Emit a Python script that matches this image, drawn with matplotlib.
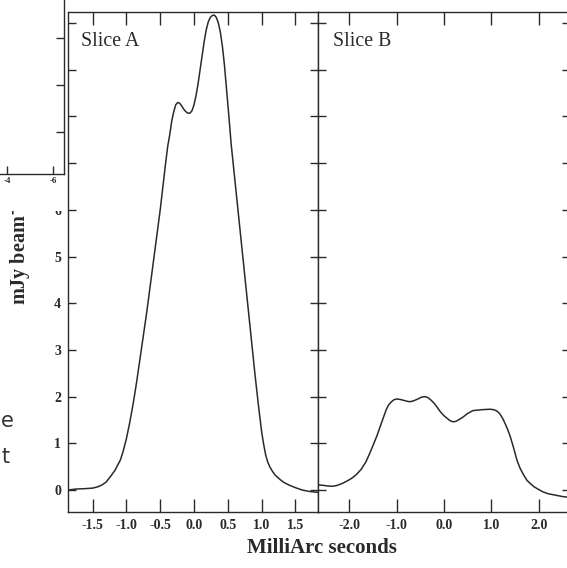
#!/usr/bin/env python3

import matplotlib

matplotlib.use("Agg")
import matplotlib.pyplot as plt
from matplotlib.patches import Rectangle

W, H = 567, 568

# Slice A profile (milliarcsec, mJy/beam)
SLICE_A_X = [-1.86, -1.75, -1.6, -1.5, -1.42, -1.36, -1.3, -1.24, -1.17, -1.13,
             -1.09, -1.05, -1.0, -0.95, -0.9, -0.85, -0.8, -0.75, -0.7, -0.65,
             -0.6, -0.55, -0.5, -0.46, -0.42, -0.39, -0.36, -0.33, -0.3, -0.27,
             -0.24, -0.21, -0.18, -0.15, -0.12, -0.09, -0.06, -0.03, 0.0, 0.03,
             0.06, 0.09, 0.12, 0.15, 0.18, 0.21, 0.24, 0.27, 0.3, 0.33,
             0.36, 0.39, 0.42, 0.45, 0.48, 0.51, 0.55, 0.6, 0.65, 0.7,
             0.75, 0.8, 0.85, 0.9, 0.95, 1.0, 1.03, 1.06, 1.09, 1.12,
             1.16, 1.2, 1.26, 1.32, 1.4, 1.5, 1.6, 1.7, 1.83]
SLICE_A_Y = [0.0, 0.02, 0.03, 0.04, 0.07, 0.11, 0.17, 0.28, 0.42, 0.53,
             0.64, 0.82, 1.1, 1.45, 1.85, 2.3, 2.8, 3.3, 3.8, 4.35,
             4.9, 5.45, 6.0, 6.5, 7.0, 7.35, 7.6, 7.9, 8.1, 8.25,
             8.3, 8.28, 8.22, 8.15, 8.1, 8.07, 8.07, 8.12, 8.25, 8.45,
             8.7, 9.0, 9.3, 9.6, 9.85, 10.02, 10.12, 10.16, 10.17, 10.12,
             10.0, 9.8, 9.5, 9.1, 8.6, 8.1, 7.4, 6.7, 6.0, 5.3,
             4.6, 3.9, 3.2, 2.5, 1.85, 1.25, 0.98, 0.75, 0.6, 0.5,
             0.4, 0.32, 0.24, 0.17, 0.11, 0.05, 0.0, -0.03, -0.05]

# Slice B profile
SLICE_B_X = [-2.66, -2.55, -2.45, -2.35, -2.25, -2.15, -2.05, -1.95, -1.85, -1.75,
             -1.65, -1.57, -1.5, -1.42, -1.35, -1.28, -1.22, -1.17, -1.12, -1.06,
             -1.0, -0.93, -0.85, -0.78, -0.72, -0.64, -0.55, -0.47, -0.4, -0.34,
             -0.28, -0.21, -0.15, -0.08, 0.0, 0.06, 0.12, 0.19, 0.25, 0.32,
             0.4, 0.5, 0.61, 0.7, 0.8, 0.97, 1.05, 1.12, 1.18, 1.24,
             1.3, 1.35, 1.4, 1.47, 1.54, 1.6, 1.65, 1.7, 1.75, 1.82,
             1.9, 2.0, 2.09, 2.2, 2.3, 2.4, 2.5, 2.66]
SLICE_B_Y = [0.11, 0.1, 0.085, 0.08, 0.1, 0.14, 0.19, 0.25, 0.33, 0.44,
             0.6, 0.78, 0.95, 1.15, 1.35, 1.55, 1.72, 1.82, 1.88, 1.93,
             1.95, 1.94, 1.92, 1.9, 1.89, 1.91, 1.95, 1.99, 2.0, 1.98,
             1.93, 1.86, 1.78, 1.68, 1.59, 1.54, 1.49, 1.46, 1.47, 1.51,
             1.56, 1.64, 1.7, 1.71, 1.72, 1.73, 1.72, 1.69, 1.63, 1.53,
             1.4, 1.28, 1.14, 0.9, 0.64, 0.48, 0.38, 0.29, 0.21, 0.14,
             0.07, 0.01, -0.04, -0.08, -0.1, -0.12, -0.14, -0.16]

Y_TICKS = list(range(0, 11))
Y_TICK_LABELS = [str(v) for v in range(0, 7)] + [""] * 4
A_TICKS = [-1.5, -1.0, -0.5, 0.0, 0.5, 1.0, 1.5]
B_TICKS = [-2.0, -1.0, 0.0, 1.0, 2.0]

INK = "#2a2a2a"
SERIF = ["Liberation Serif", "DejaVu Serif"]


def fx(px):
    return px / W


def fy(py):
    return 1 - py / H


def style_panel(ax, xticks, xlabels, left_labels):
    for spine in ax.spines.values():
        spine.set_color(INK)
        spine.set_linewidth(1.0)
    ax.set_ylim(-0.471, 10.236)
    ax.set_yticks(Y_TICKS)
    ax.set_xticks(xticks)
    ax.set_xticklabels(xlabels, fontfamily=SERIF, fontweight="bold", fontsize=10, color=INK)
    ax.tick_params(axis="x", direction="in", top=True, bottom=True, length=9.4,
                   width=1.0, color=INK, pad=5)
    ax.tick_params(axis="y", direction="in", left=True, right=True, length=5.8,
                   width=1.0, color=INK, pad=5)
    if left_labels:
        ax.set_yticklabels(Y_TICK_LABELS, fontfamily=SERIF, fontweight="bold",
                           fontsize=10, color=INK)
    else:
        ax.set_yticklabels([])


fig = plt.figure(figsize=(W / 100, H / 100), dpi=100)

ax_a = fig.add_axes([fx(68), fy(512), fx(318 - 68), (512 - 12) / H])
ax_a.plot(SLICE_A_X, SLICE_A_Y, color=INK, linewidth=1.1)
ax_a.set_xlim(-1.864, 1.834)
style_panel(ax_a, A_TICKS, [f"{v:.1f}" for v in A_TICKS], True)

ax_b = fig.add_axes([fx(318), fy(512), fx(570 - 318), (512 - 12) / H])
ax_b.plot(SLICE_B_X, SLICE_B_Y, color=INK, linewidth=1.1)
ax_b.set_xlim(-2.66, 2.66)
style_panel(ax_b, B_TICKS, [f"{v:.1f}" for v in B_TICKS], False)

fig.text(fx(81), fy(41), "Slice A", fontfamily=SERIF, fontsize=14.3, color=INK,
         ha="left", va="center")
fig.text(fx(333), fy(41), "Slice B", fontfamily=SERIF, fontsize=14.3, color=INK,
         ha="left", va="center")

fig.text(fx(322), fy(548), "MilliArc seconds", fontfamily=SERIF, fontweight="bold",
         fontsize=15, color=INK, ha="center", va="center")
fig.text(fx(20), fy(249), "mJy beam$^{\\mathbf{-1}}$", fontfamily=SERIF, fontweight="bold",
         fontsize=14.5, color=INK, ha="center", va="center", rotation=90)

# stray letters of the neighbouring page text
fig.text(fx(1), fy(421), "e", fontfamily="DejaVu Sans", fontsize=15, color="#333333",
         ha="left", va="center")
fig.text(fx(1), fy(457), "t", fontfamily="DejaVu Sans", fontsize=15, color="#333333",
         ha="left", va="center")

# white cover of the overlapping neighbouring figure
fig.patches.append(Rectangle((0, fy(211)), fx(66), 211 / H, transform=fig.transFigure,
                             facecolor="white", edgecolor="none", zorder=4))

# corner of the neighbouring figure
ax_f = fig.add_axes([fx(-100), fy(174), fx(164), 174 / H], zorder=5)
ax_f.patch.set_alpha(0)
ax_f.set_xlim(0.652, -6.478)
ax_f.set_ylim(-0.894, 2.81)
ax_f.spines["left"].set_visible(False)
ax_f.spines["top"].set_visible(False)
for side in ("right", "bottom"):
    ax_f.spines[side].set_color(INK)
    ax_f.spines[side].set_linewidth(1.0)
ax_f.set_xticks([-4, -6])
ax_f.set_xticklabels(["-4", "-6"], fontfamily=SERIF, fontweight="bold", fontsize=6.5, color=INK)
ax_f.set_yticks([0, 1, 2])
ax_f.set_yticklabels([])
ax_f.tick_params(axis="x", direction="in", length=5.8, width=1.0, color=INK, pad=2)
ax_f.tick_params(axis="y", direction="in", left=False, right=True, length=5.8,
                 width=1.0, color=INK)

fig.savefig("out.png", dpi=100)
